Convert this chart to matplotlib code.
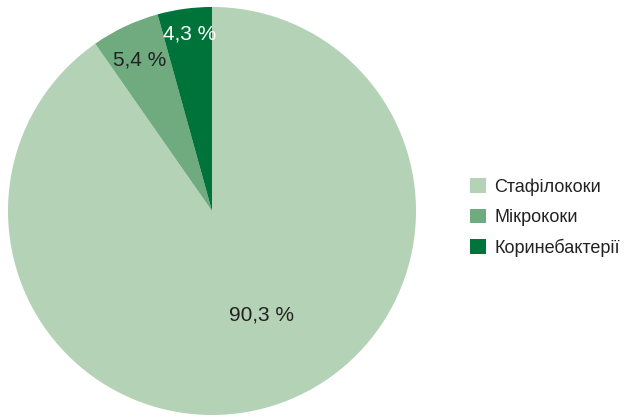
import matplotlib.pyplot as plt
from matplotlib.patches import Patch

categories = ['Стафілококи', 'Мікрококи', 'Коринебактерії']
values = [90.3, 5.4, 4.3]
labels = ['90,3 %', '5,4 %', '4,3 %']
colors = ['#b4d2b6', '#6fab7f', '#00733a']

plt.rcParams['font.family'] = ['Liberation Sans', 'DejaVu Sans']

fig = plt.figure(figsize=(6.3, 4.17), dpi=100)
ax = fig.add_axes([8 / 630, 1 / 417, 408 / 630, 408 / 417])

wedges, _ = ax.pie(values, colors=colors, startangle=90, counterclock=False,
                   wedgeprops=dict(linewidth=0))
ax.set_xlim(-1, 1)
ax.set_ylim(-1.005, 0.995)
ax.set_aspect('equal')

# підписи відсотків
ax.text(0.245, -0.51, labels[0], ha='center', va='center', fontsize=15, color='#222222')
ax.text(-0.355, 0.74, labels[1], ha='center', va='center', fontsize=15, color='#222222')
ax.text(-0.11, 0.87, labels[2], ha='center', va='center', fontsize=15, color='white')

handles = [Patch(facecolor=c, edgecolor='none') for c in colors]
fig.legend(handles, categories, loc='center left', bbox_to_anchor=(470 / 630, 0.478),
           frameon=False, fontsize=13, handlelength=0.9, handleheight=0.85,
           handletextpad=0.45, labelspacing=0.7, borderpad=0, borderaxespad=0,
           labelcolor='#222222')

fig.savefig('out.png', dpi=100)
